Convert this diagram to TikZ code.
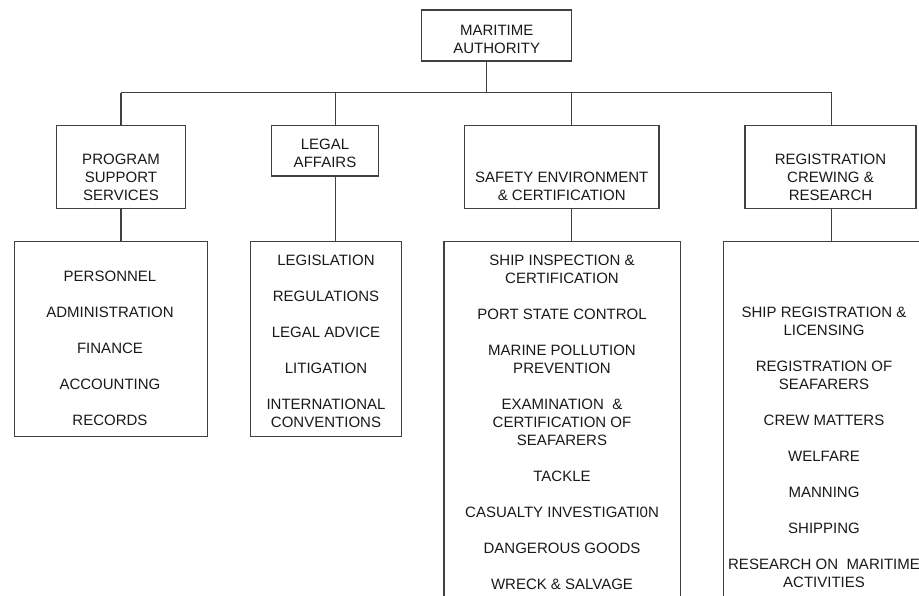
\documentclass[tikz,border=0pt]{standalone}
\usepackage{fontspec}
\setmainfont{Liberation Sans}
\usepackage{tikz}
\usetikzlibrary{positioning,calc}
\definecolor{lineGrey}{RGB}{64, 64, 64}
\definecolor{textBlack}{RGB}{25, 25, 25}

\begin{document}
\begin{tikzpicture}[
        x=1pt, y=-1pt,
        box/.style={rectangle, draw=lineGrey, line width=1.2pt, inner sep=0pt},
        boxtext/.style={inner sep=0pt, align=center, text=textBlack, font=\fontsize{15}{18}\selectfont},
        link/.style={draw=lineGrey, line width=1.2pt}
    ]
        \useasboundingbox (0,0) rectangle (919,595);
        \clip (0,0) rectangle (919,595);

        % Head office
        \node[box, minimum width=150pt, minimum height=51pt] (ma) at (496.7,35.5) {};
        \node[boxtext, anchor=south] (ma-txt) at ($(ma.south)+(0,-7.5)$) {MARITIME\\AUTHORITY};

        % Divisions
        \node[box, minimum width=128.6pt, minimum height=82.6pt] (pss) at (121,167) {};
        \node[boxtext, anchor=south] (pss-txt) at ($(pss.south)+(0,-8.3)$) {PROGRAM\\SUPPORT\\SERVICES};

        \node[box, minimum width=107.4pt, minimum height=50.3pt] (legal) at (325,150.8) {};
        \node[boxtext, anchor=south] (legal-txt) at ($(legal.south)+(0,-9)$) {LEGAL\\AFFAIRS};

        \node[box, minimum width=194.7pt, minimum height=82.6pt] (sec) at (561.7,167) {};
        \node[boxtext, anchor=south] (sec-txt) at ($(sec.south)+(0,-8.3)$) {SAFETY ENVIRONMENT\\\& CERTIFICATION};

        \node[box, minimum width=171pt, minimum height=82.6pt] (rcr) at (830.5,167) {};
        \node[boxtext, anchor=south] (rcr-txt) at ($(rcr.south)+(0,-8.3)$) {REGISTRATION\\CREWING \&\\RESEARCH};

        % Functions
        \node[box, anchor=north west, minimum width=193.3pt, minimum height=195pt] (pss-list) at (13.7,241) {};
        \node[boxtext, anchor=north] (pss-items) at (110,271.3) {
            PERSONNEL\\[18pt]
            ADMINISTRATION\\[18pt]
            FINANCE\\[18pt]
            ACCOUNTING\\[18pt]
            RECORDS
        };

        \node[box, anchor=north west, minimum width=151.3pt, minimum height=195pt] (legal-list) at (249.7,241) {};
        \node[boxtext, anchor=north] (legal-items) at (326,255.3) {
            LEGISLATION\\[18pt]
            REGULATIONS\\[18pt]
            LEGAL ADVICE\\[18pt]
            LITIGATION\\[18pt]
            INTERNATIONAL\\
            CONVENTIONS
        };

        \node[box, anchor=north west, minimum width=236.7pt, minimum height=400pt] (sec-list) at (443.3,241) {};
        \node[boxtext, anchor=north] (sec-items) at (562,255.3) {
            SHIP INSPECTION \&\\
            CERTIFICATION\\[18pt]
            PORT STATE CONTROL\\[18pt]
            MARINE POLLUTION\\
            PREVENTION\\[18pt]
            EXAMINATION~~\&\\
            CERTIFICATION OF\\
            SEAFARERS\\[18pt]
            TACKLE\\[18pt]
            CASUALTY INVESTIGATI0N\\[18pt]
            DANGEROUS GOODS\\[18pt]
            WRECK \& SALVAGE
        };

        \node[box, anchor=north west, minimum width=202pt, minimum height=400pt] (rcr-list) at (723,241) {};
        \node[boxtext, anchor=north] (rcr-items) at (824,307.3) {
            SHIP REGISTRATION \&\\
            LICENSING\\[18pt]
            REGISTRATION OF\\
            SEAFARERS\\[18pt]
            CREW MATTERS\\[18pt]
            WELFARE\\[18pt]
            MANNING\\[18pt]
            SHIPPING\\[18pt]
            RESEARCH ON~~MARITIME\\
            ACTIVITIES
        };

        % Connectors
        \coordinate (bus) at (486.7,92.7);
        \coordinate (b1) at (121,92.7);
        \coordinate (b2) at (335.7,92.7);
        \coordinate (b3) at (571.7,92.7);
        \coordinate (b4) at (831.7,92.7);
        \draw[link] (ma.south -| bus) -- (bus);
        \draw[link] (b1) -- (b4);
        \draw[link] (b1) -- (b1 |- pss.north);
        \draw[link] (b2) -- (b2 |- legal.north);
        \draw[link] (b3) -- (b3 |- sec.north);
        \draw[link] (b4) -- (b4 |- rcr.north);
        \draw[link] (b1 |- pss.south) -- (b1 |- pss-list.north);
        \draw[link] (b2 |- legal.south) -- (b2 |- legal-list.north);
        \draw[link] (b3 |- sec.south) -- (b3 |- sec-list.north);
        \draw[link] (b4 |- rcr.south) -- (b4 |- rcr-list.north);

    \end{tikzpicture}
\end{document}
